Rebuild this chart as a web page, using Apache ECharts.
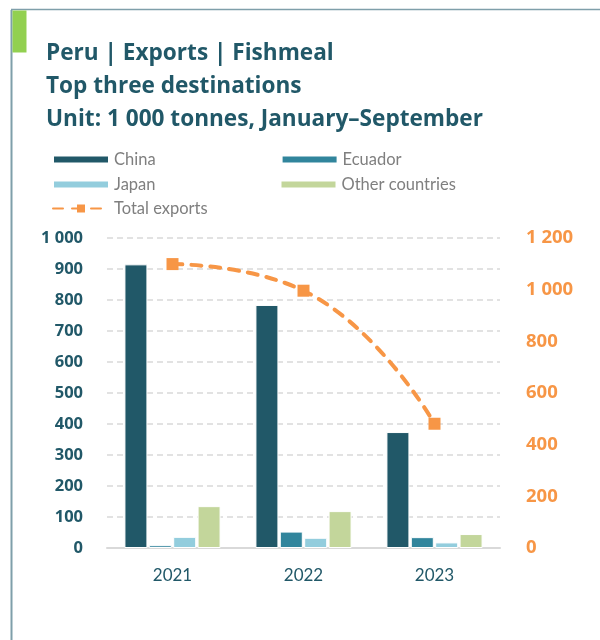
<!DOCTYPE html>
<html>
<head>
<meta charset="utf-8">
<script src="https://cdn.jsdelivr.net/npm/echarts@6/dist/echarts.min.js"></script>
<style>
html,body{margin:0;padding:0;background:#fff;}
#chart{width:600px;height:640px;}
</style>
</head>
<body>
<div id="chart"></div>
<script>
const categories = ['2021', '2022', '2023'];
const china = [915, 784, 374];
const ecuador = [9, 53, 35];
const japan = [36, 33, 18];
const otherCountries = [135, 119, 45];
const totalExports = [1099, 996, 481];
const leftTicks = [0, 100, 200, 300, 400, 500, 600, 700, 800, 900, 1000];
const rightTicks = [0, 200, 400, 600, 800, 1000, 1200];

const FONT = 'Lato, "Open Sans", sans-serif';
const BFONT = '"Open Sans", Lato, sans-serif';
const DARK = '#215868';
const ORANGE = '#f79646';
const fmt = v => { const s = String(v); return s.length > 3 ? s.slice(0, s.length - 3) + ' ' + s.slice(-3) : s; };

const chart = echarts.init(document.getElementById('chart'));
const barBase = { type: 'bar', barWidth: 23, barGap: '6%', itemStyle: { borderColor: '#ffffff', borderWidth: 1 } };
const legendText = { color: '#7f7f7f', fontSize: 16.5, fontFamily: FONT };
chart.setOption({
  animation: false,
  textStyle: { fontFamily: FONT },
  graphic: [
    { type: 'line', shape: { x1: 11.5, y1: 10, x2: 11.5, y2: 640 }, style: { stroke: '#7f9faa', lineWidth: 2 } },
    { type: 'line', shape: { x1: 11, y1: 9.5, x2: 600, y2: 9.5 }, style: { stroke: '#7f9faa', lineWidth: 1.5 } },
    { type: 'rect', shape: { x: 12.5, y: 10.5, width: 14, height: 42 }, style: { fill: '#92d050' } },
    { type: 'text', left: 46, top: 37, style: { text: 'Peru | Exports | Fishmeal\nTop three destinations\nUnit: 1 000 tonnes, January\u2013September', fill: DARK, font: 'bold 22.6px ' + BFONT, lineHeight: 33 } }
  ],
  legend: [
    { left: 52, top: 151, padding: 0, itemWidth: 56, itemHeight: 8, itemGap: 125, data: ['China', 'Ecuador'], textStyle: legendText, icon: 'rect' },
    { left: 52, top: 176, padding: 0, itemWidth: 56, itemHeight: 8, itemGap: 124, data: ['Japan', 'Other countries'], textStyle: legendText, icon: 'rect' },
    { left: 52, top: 200, padding: 0, itemWidth: 56, itemHeight: 10, data: ['Total exports'], textStyle: legendText }
  ],
  grid: { left: 107, right: 100, top: 238, bottom: 92, containLabel: false },
  xAxis: {
    type: 'category', data: categories,
    axisLine: { lineStyle: { color: '#d9d9d9', width: 2 } },
    axisTick: { show: false },
    axisLabel: { color: DARK, fontSize: 17, margin: 19, fontFamily: FONT }
  },
  yAxis: [
    {
      type: 'value', min: 0, max: 1000, interval: 100,
      axisLabel: { color: DARK, fontWeight: 'bold', fontSize: 16.5, margin: 24, fontFamily: BFONT, formatter: fmt,
        customValues: leftTicks },
      axisLine: { show: false }, axisTick: { show: false },
      splitLine: { lineStyle: { color: '#d9d9d9', type: [6, 4], width: 1.5 } }
    },
    {
      type: 'value', min: 0, max: 1200, interval: 200,
      axisLabel: { color: ORANGE, fontWeight: 'bold', fontSize: 18.5, margin: 26, fontFamily: BFONT, formatter: fmt,
        customValues: rightTicks },
      axisLine: { show: false }, axisTick: { show: false }, splitLine: { show: false }
    }
  ],
  series: [
    Object.assign({}, barBase, { name: 'China', data: china, itemStyle: Object.assign({}, barBase.itemStyle, { color: '#215868' }) }),
    Object.assign({}, barBase, { name: 'Ecuador', data: ecuador, itemStyle: Object.assign({}, barBase.itemStyle, { color: '#31859c' }) }),
    Object.assign({}, barBase, { name: 'Japan', data: japan, itemStyle: Object.assign({}, barBase.itemStyle, { color: '#93cddd' }) }),
    Object.assign({}, barBase, { name: 'Other countries', data: otherCountries, itemStyle: Object.assign({}, barBase.itemStyle, { color: '#c3d69b' }) }),
    {
      name: 'Total exports', type: 'line', yAxisIndex: 1, data: totalExports, smooth: 0.5,
      symbol: 'rect', symbolSize: 12,
      lineStyle: { color: ORANGE, width: 4, type: [10, 9], cap: 'round' },
      itemStyle: { color: ORANGE }
    }
  ]
});
</script>
</body>
</html>
